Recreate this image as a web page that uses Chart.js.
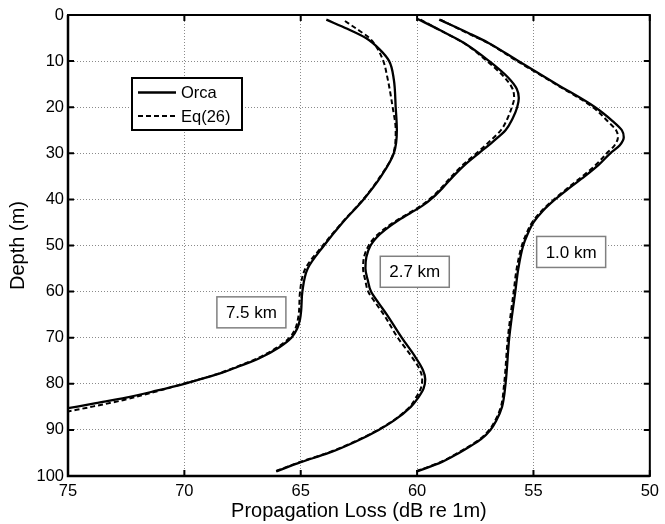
<!DOCTYPE html>
<html>
<head>
<meta charset="utf-8">
<script src="https://cdn.jsdelivr.net/npm/chart.js@4/dist/chart.umd.min.js"></script>
<style>
  html, body { margin: 0; padding: 0; background: #fff; }
  #wrap { width: 665px; height: 524px; position: relative; }
</style>
</head>
<body>
<div id="wrap"><canvas id="c" width="665" height="524"></canvas></div>
<script>
// ---- Data: [propagation loss (dB), depth (m)] ----
const orca75 = [[63.9,1],[63.0,3],[62.2,5],[61.6,7.5],[61.2,10],[61.0,14],[60.92,20],[60.87,25],[61.0,30],[61.55,35],[62.3,40],[63.2,45],[64.0,50],[64.7,55],[64.93,60],[64.98,64],[65.03,66],[65.15,68],[65.4,70],[65.9,72],[66.8,74.5],[67.7,76.3],[68.5,77.8],[69.3,79],[70.0,80],[71.2,81.5],[72.5,83],[73.8,84.2],[75.0,85.3]];
const eq75   = [[63.1,1.3],[62.6,3],[62.05,5],[61.8,6.5],[61.45,10],[61.3,13],[61.05,20],[60.92,25],[61.02,30],[61.58,35],[62.32,40],[63.22,45],[64.05,50],[64.8,55],[65.03,60],[65.07,64],[65.12,66],[65.23,68],[65.48,70],[65.98,72],[66.88,74.5],[67.8,76.4],[68.6,77.9],[69.4,79.1],[70.05,80],[71.3,81.8],[72.6,83.5],[73.9,84.9],[75.0,86.0]];
const orca27 = [[60.0,0.8],[59.05,3.2],[58.0,6],[56.9,10],[56.1,13.5],[55.72,16],[55.63,18],[55.7,20],[55.9,22.5],[56.2,25],[56.75,27.5],[57.35,30],[57.95,32.5],[58.45,35],[58.9,37.5],[59.3,39.5],[59.75,41.3],[60.3,43],[60.85,44.7],[61.35,46.5],[61.75,48.3],[62.0,50],[62.18,52.5],[62.22,55],[62.12,57.5],[61.98,60],[61.65,62.5],[61.3,65],[60.66,70],[60.1,74],[59.75,77],[59.65,79],[59.72,81],[59.95,83],[60.27,85],[61.0,88],[61.65,90],[62.63,92.5],[63.8,95],[65.0,97],[66.05,99]];
const eq27   = [[59.85,1],[58.95,3.5],[57.95,6.2],[57.0,10],[56.25,13.5],[55.9,16],[55.83,18],[55.93,20],[56.12,22.5],[56.4,25],[56.9,27.5],[57.45,30],[58.03,32.5],[58.52,35],[58.96,37.5],[59.36,39.5],[59.81,41.3],[60.36,43],[60.92,44.7],[61.43,46.5],[61.83,48.3],[62.08,50],[62.28,52.5],[62.32,55],[62.23,57.5],[62.1,60],[61.78,62.5],[61.43,65],[60.83,70],[60.25,74],[59.88,77],[59.78,79],[59.84,81],[60.05,83],[60.32,85],[61.03,88],[61.68,90],[62.67,92.5],[63.85,95],[65.05,97],[66.1,99]];
const orca10 = [[59.05,1],[57.8,3.9],[56.95,6],[55.65,10],[54.0,15],[52.35,20],[51.6,23],[51.2,25],[51.12,26.5],[51.3,28.3],[51.7,30],[52.2,32.5],[52.8,35],[53.45,37.5],[54.07,40],[54.6,42.5],[55.0,45],[55.25,47.5],[55.44,50],[55.65,55],[55.78,60],[56.04,70],[56.2,80],[56.35,85],[56.6,88],[56.85,90],[57.25,92],[57.7,93.5],[58.2,95],[58.95,97],[60.0,99]];
const eq10   = [[59.0,1],[57.85,3.9],[56.98,6],[55.7,10],[54.05,15],[52.45,20],[51.82,23],[51.45,25],[51.37,26.5],[51.52,28.3],[51.85,30],[52.32,32.5],[52.9,35],[53.52,37.5],[54.12,40],[54.65,42.5],[55.06,45],[55.31,47.5],[55.5,50],[55.72,55],[55.85,60],[56.1,70],[56.26,80],[56.4,85],[56.65,88],[56.9,90],[57.3,92],[57.75,93.5],[58.25,95],[59.0,97],[60.05,99]];

const xTicks = [75, 70, 65, 60, 55, 50];
const yTicks = [0, 10, 20, 30, 40, 50, 60, 70, 80, 90, 100];
const rangeLabels = ['7.5 km', '2.7 km', '1.0 km'];
const rangeLabelAt = [[67.12, 64.5], [60.1, 55.7], [53.38, 51.4]];
const legendNames = ['Orca', 'Eq(26)'];

const FONT = '"Liberation Sans", Arial, Helvetica, sans-serif';
const toPts = a => a.map(p => ({x: p[0], y: p[1]}));

function solid(d) {
  return { label: 'Orca', data: toPts(d), showLine: true, borderColor: '#000', borderWidth: 2.3,
    pointRadius: 0, cubicInterpolationMode: 'monotone', fill: false, clip: 0 };
}
function dashed(d) {
  return { label: 'Eq(26)', data: toPts(d), showLine: true, borderColor: '#000', borderWidth: 2,
    borderDash: [5, 3], pointRadius: 0, cubicInterpolationMode: 'monotone', fill: false, clip: 0 };
}

const decorPlugin = {
  id: 'decor',
  afterDatasetsDraw(chart) {
    const ctx = chart.ctx, a = chart.chartArea;
    const xs = chart.scales.x, ys = chart.scales.y;
    ctx.save();
    // frame
    ctx.strokeStyle = '#000';
    ctx.lineWidth = 2;
    ctx.strokeRect(a.left, a.top, a.right - a.left, a.bottom - a.top);
    ctx.lineWidth = 2.5;
    ctx.beginPath();
    ctx.moveTo(a.left, a.top); ctx.lineTo(a.left, a.bottom); ctx.lineTo(a.right, a.bottom);
    ctx.stroke();
    // inner ticks
    ctx.lineWidth = 2;
    const tl = 6;
    xTicks.forEach(v => {
      const px = xs.getPixelForValue(v);
      ctx.beginPath();
      ctx.moveTo(px, a.bottom); ctx.lineTo(px, a.bottom - tl);
      ctx.moveTo(px, a.top); ctx.lineTo(px, a.top + tl);
      ctx.stroke();
    });
    yTicks.forEach(v => {
      const py = ys.getPixelForValue(v);
      ctx.beginPath();
      ctx.moveTo(a.left, py); ctx.lineTo(a.left + tl, py);
      ctx.moveTo(a.right, py); ctx.lineTo(a.right - tl, py);
      ctx.stroke();
    });
    // range labels
    ctx.font = '17px ' + FONT;
    ctx.textAlign = 'center';
    ctx.textBaseline = 'middle';
    rangeLabels.forEach((t, i) => {
      const cx = xs.getPixelForValue(rangeLabelAt[i][0]);
      const cy = ys.getPixelForValue(rangeLabelAt[i][1]);
      const w = 69, h = 31;
      ctx.fillStyle = '#fff';
      ctx.fillRect(cx - w / 2, cy - h / 2, w, h);
      ctx.strokeStyle = '#808080';
      ctx.lineWidth = 1.5;
      ctx.strokeRect(cx - w / 2, cy - h / 2, w, h);
      ctx.fillStyle = '#000';
      ctx.fillText(t, cx, cy + 1);
    });
    // legend
    const lx = a.left + 64, ly = a.top + 63, lw = 110, lh = 52;
    ctx.fillStyle = '#fff';
    ctx.fillRect(lx, ly, lw, lh);
    ctx.strokeStyle = '#000';
    ctx.lineWidth = 2;
    ctx.strokeRect(lx, ly, lw, lh);
    ctx.font = '16.5px ' + FONT;
    ctx.textAlign = 'left';
    ctx.fillStyle = '#000';
    [0, 1].forEach(i => {
      const yy = ly + 14.5 + i * 23.5;
      ctx.beginPath();
      ctx.lineWidth = i === 0 ? 2.3 : 2;
      ctx.setLineDash(i === 0 ? [] : [5, 3]);
      ctx.moveTo(lx + 6, yy); ctx.lineTo(lx + 44, yy);
      ctx.stroke();
      ctx.setLineDash([]);
      ctx.fillText(legendNames[i], lx + 49, yy + 1);
    });
    ctx.restore();
  }
};

new Chart(document.getElementById('c'), {
  type: 'scatter',
  data: {
    datasets: [dashed(eq75), solid(orca75), dashed(eq27), solid(orca27), dashed(eq10), solid(orca10)]
  },
  options: {
    indexAxis: 'y',
    responsive: false,
    animation: false,
    devicePixelRatio: 1,
    layout: { padding: { left: 0, top: 15, right: 13, bottom: 0 } },
    plugins: { legend: { display: false }, tooltip: { enabled: false } },
    scales: {
      x: {
        type: 'linear', position: 'bottom', min: 50, max: 75, reverse: true,
        afterFit: s => { s.height = 48; },
        afterBuildTicks: s => { s.ticks = xTicks.map(v => ({value: v})); },
        ticks: { color: '#000', font: { size: 16.5, family: FONT }, padding: 6, maxRotation: 0 },
        grid: { color: '#8a8a8a', lineWidth: 1, drawTicks: false },
        border: { display: false, dash: [1, 2] },
        title: { display: true, text: 'Propagation Loss (dB re 1m)', color: '#000',
          font: { size: 20, family: FONT }, padding: { top: 0, bottom: 1 } }
      },
      y: {
        type: 'linear', position: 'left', min: 0, max: 100, reverse: true,
        afterFit: s => { s.width = 68; },
        afterBuildTicks: s => { s.ticks = yTicks.map(v => ({value: v})); },
        ticks: { color: '#000', font: { size: 16.5, family: FONT }, padding: 4 },
        grid: { color: '#8a8a8a', lineWidth: 1, drawTicks: false },
        border: { display: false, dash: [1, 2] },
        title: { display: true, text: 'Depth (m)', color: '#000',
          font: { size: 20, family: FONT }, padding: { top: 6, bottom: 0 } }
      }
    }
  },
  plugins: [decorPlugin]
});
</script>
</body>
</html>
